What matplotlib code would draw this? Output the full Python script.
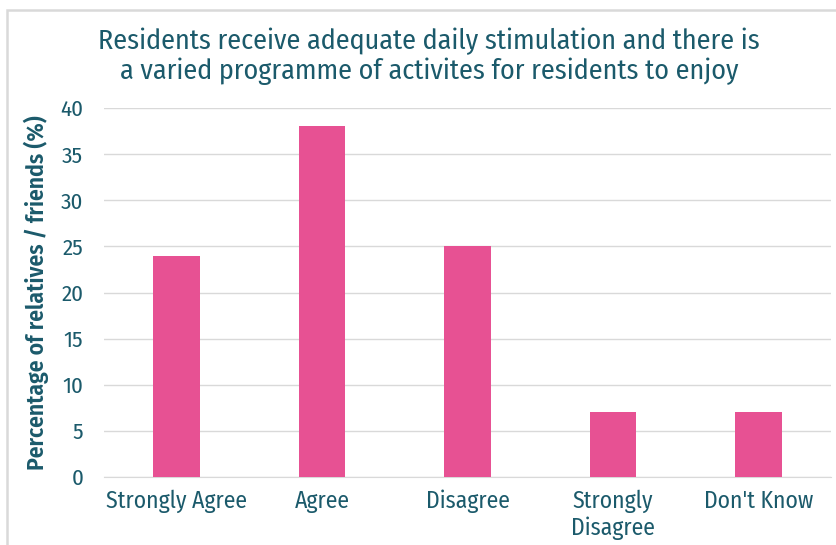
import matplotlib
matplotlib.use("Agg")
import matplotlib.pyplot as plt
from matplotlib.patches import Rectangle
import numpy as np

categories = ["Strongly Agree", "Agree", "Disagree", "Strongly\nDisagree", "Don't Know"]
percentages = [24, 38, 25, 7, 7]
yticks = [0, 5, 10, 15, 20, 25, 30, 35, 40]

title = ("Residents receive adequate daily stimulation and there is\n"
         "a varied programme of activites for residents to enjoy")
ylabel = "Percentage of relatives / friends (%)"

text_col = "#1B5A6B"
bar_col = "#E75193"
grid_col = "#D9D9D9"

plt.rcParams['font.family'] = ['Fira Sans Condensed', 'DejaVu Sans']

W, H = 837, 545
fig = plt.figure(figsize=(W / 100, H / 100), dpi=100)

# outer chart frame (runs off the right / bottom edges)
fig.patches.append(Rectangle((7 / W, -0.05), 1.1, 1 - 10 / H + 0.05,
                             transform=fig.transFigure, fill=False,
                             edgecolor=grid_col, linewidth=1.8))

ax = fig.add_axes([104 / W, 68 / H, 727 / W, 369 / H])
x = np.arange(len(categories))
ax.bar(x, percentages, width=0.32, color=bar_col, zorder=3)

ax.set_xlim(-0.5, len(categories) - 0.5)
ax.set_ylim(0, 40)
ax.set_yticks(yticks)
ax.set_xticks(x)
ax.set_xticklabels(categories, fontsize=17, color=text_col, linespacing=1.2)
ax.tick_params(axis='y', labelsize=16.5, colors=text_col, length=0, pad=15)
ax.tick_params(axis='x', length=0, pad=9)

ax.grid(axis='y', color=grid_col, linewidth=1, zorder=0)
for s in ["top", "right", "left"]:
    ax.spines[s].set_visible(False)
ax.spines["bottom"].set_color(grid_col)

ax.set_ylabel(ylabel, fontsize=17, color=text_col, fontweight='semibold', labelpad=8)
fig.text(429 / W, 1 - 56 / H, title, ha='center', va='center',
         fontsize=20.2, color=text_col, linespacing=1.12)

fig.savefig("out.png", dpi=100)
